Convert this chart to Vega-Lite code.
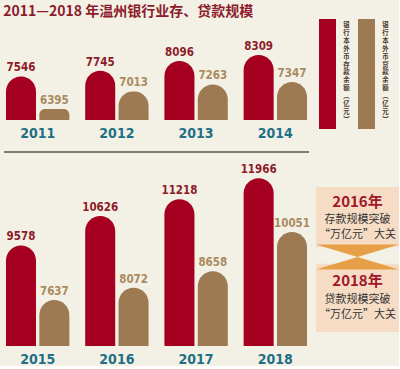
{
  "$schema": "https://vega.github.io/schema/vega-lite/v6.json",
  "background": "#f3f1e6",
  "padding": {"left": 3, "top": 5, "right": 0, "bottom": 0},
  "config": {"view": {"stroke": null}},
  "title": {
    "text": "2011—2018 年温州银行业存、贷款规模",
    "anchor": "start",
    "font": "Noto Sans CJK SC",
    "fontSize": 14,
    "fontWeight": "bold",
    "color": "#8c1b2c",
    "offset": 0
  },
  "datasets": {
    "bank": [
      {"year": "2011", "half": "top", "type": "存款", "value": 7546},
      {"year": "2011", "half": "top", "type": "贷款", "value": 6395},
      {"year": "2012", "half": "top", "type": "存款", "value": 7745},
      {"year": "2012", "half": "top", "type": "贷款", "value": 7013},
      {"year": "2013", "half": "top", "type": "存款", "value": 8096},
      {"year": "2013", "half": "top", "type": "贷款", "value": 7263},
      {"year": "2014", "half": "top", "type": "存款", "value": 8309},
      {"year": "2014", "half": "top", "type": "贷款", "value": 7347},
      {"year": "2015", "half": "bottom", "type": "存款", "value": 9578},
      {"year": "2015", "half": "bottom", "type": "贷款", "value": 7637},
      {"year": "2016", "half": "bottom", "type": "存款", "value": 10626},
      {"year": "2016", "half": "bottom", "type": "贷款", "value": 8072},
      {"year": "2017", "half": "bottom", "type": "存款", "value": 11218},
      {"year": "2017", "half": "bottom", "type": "贷款", "value": 8658},
      {"year": "2018", "half": "bottom", "type": "存款", "value": 11966},
      {"year": "2018", "half": "bottom", "type": "贷款", "value": 10051}
    ],
    "legend": [
      {"type": "存款", "label": "银\n行\n本\n外\n币\n存\n款\n余\n额\n︵\n亿\n元\n︶"},
      {"type": "贷款", "label": "银\n行\n本\n外\n币\n贷\n款\n余\n额\n︵\n亿\n元\n︶"}
    ],
    "note": [
      {"kind": "year", "text": "2016年", "line": 1.0},
      {"kind": "body", "text": "存款规模突破", "line": 2.3},
      {"kind": "body", "text": "“万亿元”大关", "line": 3.3},
      {"kind": "year", "text": "2018年", "line": 6.5},
      {"kind": "body", "text": "贷款规模突破", "line": 7.8},
      {"kind": "body", "text": "“万亿元”大关", "line": 8.8}
    ]
  },
  "spacing": 5,
  "hconcat": [
    {
      "spacing": 11,
      "vconcat": [
        {
          "width": 305,
          "height": 101,
          "data": {"name": "bank"},
          "transform": [{"filter": "datum.half == 'top'"}],
          "layer": [
            {
              "mark": {"type": "bar", "cornerRadiusTopLeft": 15, "cornerRadiusTopRight": 15},
              "encoding": {
                "x": {"field": "year", "type": "nominal", "scale": {"paddingInner": 0.2, "paddingOuter": 0.025},
                  "axis": {"title": null, "domain": false, "ticks": false, "labelAngle": 0, "labelPadding": 6, "labelFontSize": 14, "labelFont": "Liberation Sans Narrow, DejaVu Sans Condensed, sans-serif", "labelFontWeight": "bold", "labelColor": "#1f6f86"}},
                "xOffset": {"field": "type", "type": "nominal", "scale": {"domain": ["存款", "贷款"], "paddingInner": 0.1}},
                "y": {"field": "value", "type": "quantitative", "scale": {"domain": [6000, 9587], "nice": false, "zero": false}, "axis": null},
                "y2": {"datum": 6000},
                "color": {"field": "type", "type": "nominal", "scale": {"domain": ["存款", "贷款"], "range": ["#a5001f", "#9d7a52"]}, "legend": null}
              }
            },
            {
              "mark": {"type": "text", "baseline": "alphabetic", "dy": -5, "fontSize": 11.5, "fontWeight": "bold", "font": "Liberation Sans Narrow, DejaVu Sans Condensed, sans-serif"},
              "encoding": {
                "x": {"field": "year", "type": "nominal"},
                "xOffset": {"field": "type", "type": "nominal"},
                "y": {"field": "value", "type": "quantitative"},
                "text": {"field": "value", "type": "quantitative", "format": "d"},
                "color": {"field": "type", "type": "nominal", "scale": {"domain": ["存款", "贷款"], "range": ["#8e1b28", "#a98b5e"]}, "legend": null}
              }
            }
          ],
          "resolve": {"scale": {"color": "independent"}}
        },
        {
          "width": 305,
          "height": 194,
          "layer": [
            {
              "data": {"values": [{"line": "divider"}]},
              "mark": {"type": "rule", "color": "#555555", "strokeWidth": 1.5},
              "encoding": {"y": {"datum": 12900, "type": "quantitative", "scale": {"domain": [6000, 12900], "nice": false, "zero": false}, "axis": null}}
            },
            {
              "data": {"name": "bank"},
              "transform": [{"filter": "datum.half == 'bottom'"}],
              "mark": {"type": "bar", "cornerRadiusTopLeft": 15, "cornerRadiusTopRight": 15},
              "encoding": {
                "x": {"field": "year", "type": "nominal", "scale": {"paddingInner": 0.2, "paddingOuter": 0.025},
                  "axis": {"title": null, "domain": false, "ticks": false, "labelAngle": 0, "labelPadding": 6, "labelFontSize": 14, "labelFont": "Liberation Sans Narrow, DejaVu Sans Condensed, sans-serif", "labelFontWeight": "bold", "labelColor": "#1f6f86"}},
                "xOffset": {"field": "type", "type": "nominal", "scale": {"domain": ["存款", "贷款"], "paddingInner": 0.1}},
                "y": {"field": "value", "type": "quantitative"},
                "y2": {"datum": 6000},
                "color": {"field": "type", "type": "nominal", "scale": {"domain": ["存款", "贷款"], "range": ["#a5001f", "#9d7a52"]}, "legend": null}
              }
            },
            {
              "data": {"name": "bank"},
              "transform": [{"filter": "datum.half == 'bottom'"}],
              "mark": {"type": "text", "baseline": "alphabetic", "dy": -5, "fontSize": 11.5, "fontWeight": "bold", "font": "Liberation Sans Narrow, DejaVu Sans Condensed, sans-serif"},
              "encoding": {
                "x": {"field": "year", "type": "nominal"},
                "xOffset": {"field": "type", "type": "nominal"},
                "y": {"field": "value", "type": "quantitative"},
                "text": {"field": "value", "type": "quantitative", "format": "d"},
                "color": {"field": "type", "type": "nominal", "scale": {"domain": ["存款", "贷款"], "range": ["#8e1b28", "#a98b5e"]}, "legend": null}
              }
            }
          ],
          "resolve": {"scale": {"color": "independent"}}
        }
      ]
    },
    {
      "spacing": 58,
      "vconcat": [
        {
          "width": 78,
          "height": 110,
          "data": {"name": "legend"},
          "layer": [
            {
              "mark": {"type": "bar", "width": 17, "xOffset": -8},
              "encoding": {
                "x": {"field": "type", "type": "nominal", "scale": {"domain": ["存款", "贷款"], "paddingInner": 0, "paddingOuter": 0}, "axis": null},
                "y": {"datum": 110, "type": "quantitative", "scale": {"domain": [0, 110], "nice": false}, "axis": null},
                "y2": {"datum": 0},
                "color": {"field": "type", "type": "nominal", "scale": {"domain": ["存款", "贷款"], "range": ["#a5001f", "#9d7a52"]}, "legend": null}
              }
            },
            {
              "mark": {"type": "text", "dx": 11, "baseline": "top", "lineBreak": "\n", "fontSize": 6.4, "lineHeight": 7.9, "font": "Noto Sans CJK SC", "fontWeight": "bold", "color": "#4a3a30"},
              "encoding": {
                "x": {"field": "type", "type": "nominal"},
                "y": {"datum": 107, "type": "quantitative"},
                "text": {"field": "label", "type": "nominal"}
              }
            }
          ]
        },
        {
          "width": 83,
          "height": 145,
          "layer": [
            {
              "data": {"values": [{"box": "2016", "from": 0, "to": 4.15}, {"box": "2018", "from": 5.3, "to": 10}]},
              "mark": {"type": "rect", "color": "#f6dcc5"},
              "encoding": {
                "y": {"field": "from", "type": "quantitative", "scale": {"domain": [0, 10], "reverse": true, "nice": false}, "axis": null},
                "y2": {"field": "to"}
              }
            },
            {
              "data": {"values": [{"dir": "down"}, {"dir": "up"}]},
              "mark": {"type": "point", "filled": true, "opacity": 1, "color": "#e8a048", "size": 6889},
              "encoding": {
                "y": {"datum": 4.83, "type": "quantitative"},
                "shape": {"field": "dir", "type": "nominal", "scale": {"domain": ["down", "up"], "range": ["M-1,-0.3L1,-0.3L0,0Z", "M-1,0.3L1,0.3L0,0Z"]}, "legend": null}
              }
            },
            {
              "data": {"name": "note"},
              "transform": [{"filter": "datum.kind == 'year'"}],
              "mark": {"type": "text", "font": "Noto Sans CJK SC", "fontSize": 15, "fontWeight": "bold", "color": "#a0172a", "baseline": "middle"},
              "encoding": {
                "y": {"field": "line", "type": "quantitative"},
                "text": {"field": "text", "type": "nominal"}
              }
            },
            {
              "data": {"name": "note"},
              "transform": [{"filter": "datum.kind == 'body'"}],
              "mark": {"type": "text", "font": "Noto Sans CJK SC", "fontSize": 11, "color": "#333333", "baseline": "middle"},
              "encoding": {
                "y": {"field": "line", "type": "quantitative"},
                "text": {"field": "text", "type": "nominal"}
              }
            }
          ]
        }
      ]
    }
  ]
}
